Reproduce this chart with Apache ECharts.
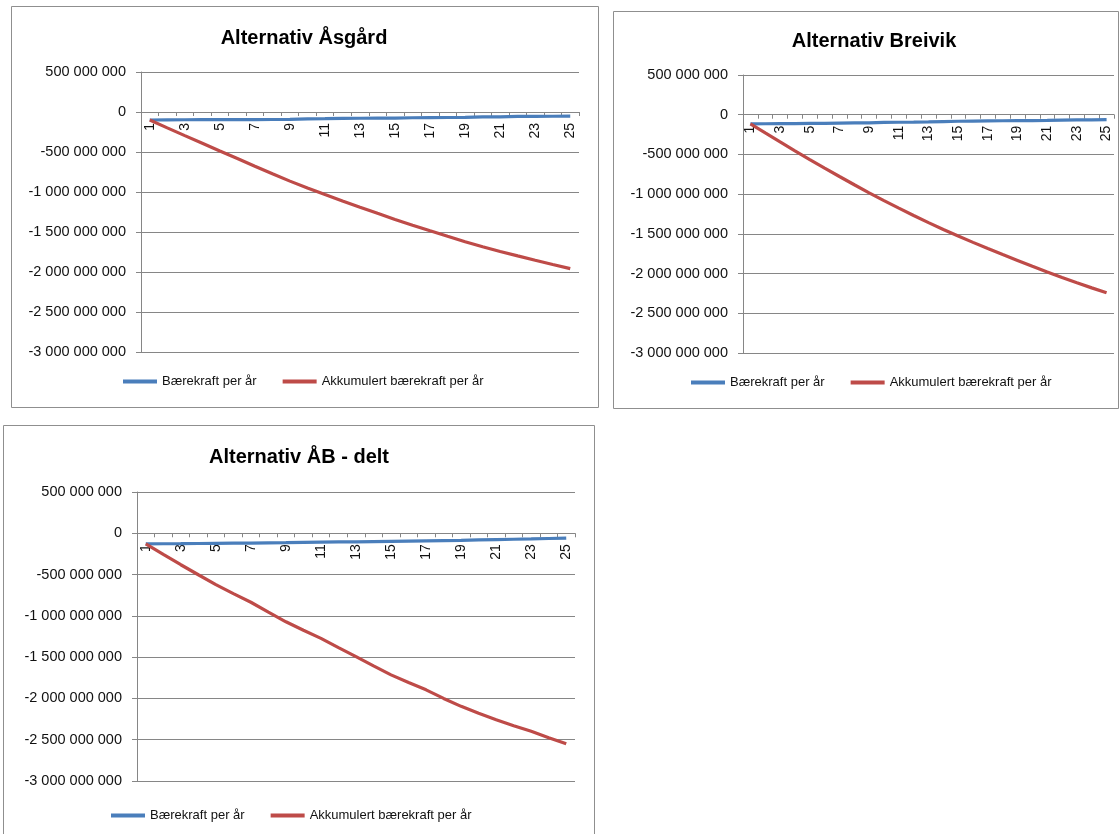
<!DOCTYPE html>
<html>
<head>
<meta charset="utf-8">
<script src="https://cdn.jsdelivr.net/npm/echarts@6/dist/echarts.min.js"></script>
<style>
html,body{margin:0;padding:0;background:#fff;}
#c{width:1120px;height:834px;}
</style>
</head>
<body>
<div id="c"></div>
<script>
// ---- data (values in NOK) ----
const categories = ['1','2','3','4','5','6','7','8','9','10','11','12','13','14','15','16','17','18','19','20','21','22','23','24','25'];
const seriesNames = ['Bærekraft per år', 'Akkumulert bærekraft per år'];
const chartTitles = ['Alternativ Åsgård', 'Alternativ Breivik', 'Alternativ ÅB - delt'];
const yTicks = [500e6, 0, -500e6, -1000e6, -1500e6, -2000e6, -2500e6, -3000e6];

const asgardPerYear = [-100e6,-98e6,-97e6,-96e6,-96e6,-95e6,-95e6,-94e6,-93e6,-85e6,-83e6,-80e6,-78e6,-77e6,-76e6,-72e6,-70e6,-69e6,-68e6,-62e6,-60e6,-55e6,-54e6,-53e6,-52e6];
const asgardAccum = [-100e6,-198e6,-295e6,-391e6,-487e6,-582e6,-677e6,-771e6,-864e6,-949e6,-1032e6,-1112e6,-1190e6,-1267e6,-1343e6,-1415e6,-1485e6,-1554e6,-1622e6,-1684e6,-1744e6,-1799e6,-1853e6,-1906e6,-1958e6];

const breivikPerYear = [-115e6,-114e6,-113e6,-112e6,-110e6,-108e6,-106e6,-104e6,-102e6,-97e6,-95e6,-93e6,-90e6,-86e6,-82e6,-80e6,-78e6,-76e6,-74e6,-74e6,-72e6,-69e6,-66e6,-64e6,-62e6];
const breivikAccum = [-115e6,-229e6,-342e6,-454e6,-564e6,-672e6,-778e6,-882e6,-984e6,-1081e6,-1176e6,-1269e6,-1359e6,-1445e6,-1527e6,-1607e6,-1685e6,-1761e6,-1835e6,-1909e6,-1981e6,-2050e6,-2116e6,-2180e6,-2242e6];

const abPerYear = [-128e6,-127e6,-126e6,-124e6,-122e6,-120e6,-118e6,-116e6,-114e6,-111e6,-108e6,-105e6,-103e6,-100e6,-97e6,-94e6,-91e6,-88e6,-85e6,-80e6,-76e6,-72e6,-68e6,-63e6,-58e6];
const abAccum = [-128e6,-255e6,-381e6,-502e6,-622e6,-730e6,-835e6,-955e6,-1072e6,-1175e6,-1273e6,-1385e6,-1494e6,-1606e6,-1715e6,-1808e6,-1896e6,-2000e6,-2096e6,-2180e6,-2257e6,-2330e6,-2398e6,-2475e6,-2550e6];

const panelData = [[asgardPerYear, asgardAccum],[breivikPerYear, breivikAccum],[abPerYear, abAccum]];

// ---- layout ----
const FONT = 'Liberation Sans';
const panels = [
  {box:[11.5,6.5,587,401], grid:{left:141,top:72,width:438,height:280}, title:[304,28], legend:[123,375]},
  {box:[613.5,11.5,505,397], grid:{left:743,top:75,width:371,height:278}, title:[874,31], legend:[691,376]},
  {box:[3.5,425.5,591,430], grid:{left:137,top:492,width:438,height:289}, title:[299,447], legend:[111,809]}
];
const blue = '#4A7EBB', red = '#BE4B48', gridCol = '#868686';

function fmt(v){
  const neg = v < 0; let s = String(Math.abs(Math.round(v)));
  s = s.replace(/\B(?=(\d{3})+(?!\d))/g, ' ');
  return (neg ? '-' : '') + s;
}
const yMin = yTicks[yTicks.length-1], yMax = yTicks[0];

const option = {
  animation:false,
  backgroundColor:'#fff',
  graphic: panels.map(p => ({type:'rect', shape:{x:p.box[0],y:p.box[1],width:p.box[2],height:p.box[3]}, style:{fill:'none', stroke:'#8f8f8f', lineWidth:1}, silent:true})),
  title: panels.map((p,i) => ({text:chartTitles[i], left:p.title[0], top:p.title[1], textAlign:'center', padding:0,
     textStyle:{fontFamily:FONT, fontSize:20, fontWeight:'bold', color:'#000'}})),
  legend: panels.map((p,i) => ({data:seriesNames, left:p.legend[0], top:p.legend[1], padding:0, itemGap:26, itemWidth:34, itemHeight:4, icon:'rect',
     textStyle:{fontFamily:FONT, fontSize:13, color:'#111'}})),
  grid: panels.map(p => Object.assign({containLabel:false}, p.grid)),
  // x axis placed at the value 0 of the y axis (as in the original), via offset from the grid bottom
  xAxis: panels.map((p,i) => ({type:'category', gridIndex:i, data:categories, boundaryGap:true, position:'bottom',
     offset: -p.grid.height * (0 - yMin) / (yMax - yMin),
     axisLine:{onZero:false, lineStyle:{color:gridCol, width:1}},
     axisTick:{show:true, interval:0, alignWithLabel:false, length:4, lineStyle:{color:gridCol}},
     axisLabel:{interval:1, rotate:90, margin:11, fontFamily:FONT, fontSize:14, color:'#111'},
     splitLine:{show:false}})),
  yAxis: panels.map((p,i) => ({type:'value', gridIndex:i, min:yMin, max:yMax, interval:500e6,
     axisLine:{show:true, lineStyle:{color:gridCol, width:1}},
     axisTick:{show:true, length:5, lineStyle:{color:gridCol}},
     axisLabel:{margin:15, fontFamily:FONT, fontSize:14.5, color:'#111', formatter:fmt},
     splitLine:{show:true, lineStyle:{color:gridCol, width:1}}})),
  series: []
};
panelData.forEach((d,i) => {
  option.series.push({name:seriesNames[0], type:'line', xAxisIndex:i, yAxisIndex:i, data:d[0], showSymbol:false, symbol:'none', lineStyle:{color:blue, width:3.2}, itemStyle:{color:blue}, z:3});
  option.series.push({name:seriesNames[1], type:'line', xAxisIndex:i, yAxisIndex:i, data:d[1], showSymbol:false, symbol:'none', lineStyle:{color:red, width:3.2}, itemStyle:{color:red}, z:4});
});
const chart = echarts.init(document.getElementById('c'), null, {renderer:'canvas'});
chart.setOption(option);
</script>
</body>
</html>
